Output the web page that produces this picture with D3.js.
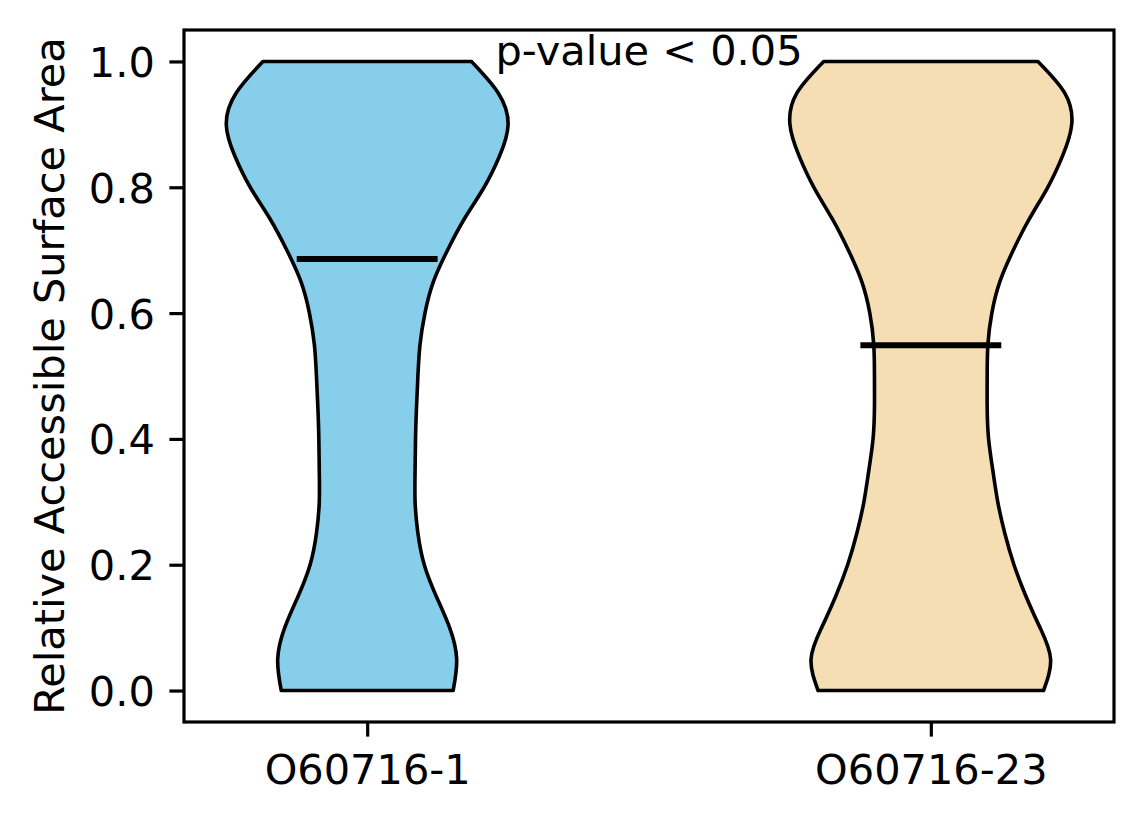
<!DOCTYPE html>
<html>
<head>
<meta charset="utf-8">
<script src="https://cdn.jsdelivr.net/npm/d3@7"></script>
<style>
    body { margin: 0; background: #fff; }
    svg { display: block; font-family: "DejaVu Sans", sans-serif; }
</style>
</head>
<body>
<div id="chart"></div>
<script>
// categories and their x positions
const categories = ["O60716-1", "O60716-23"];
const positions = [1, 2];
const fills = ["#87CEEB", "#F5DEB3"];

const rsaGrid = [0.00, 0.05, 0.10, 0.15, 0.20, 0.25, 0.30, 0.35, 0.40, 0.45, 0.50,
                 0.55, 0.60, 0.65, 0.70, 0.75, 0.80, 0.85, 0.90, 0.95, 1.00];
// kernel density (scaled so the peak is 1) for each isoform
const densityIso1 = [0.61, 0.635, 0.585, 0.49, 0.405, 0.36, 0.34, 0.34, 0.343, 0.35, 0.36,
                     0.375, 0.41, 0.47, 0.57, 0.69, 0.83, 0.94, 1.00, 0.93, 0.74];
const densityIso23 = [0.80, 0.85, 0.775, 0.675, 0.59, 0.525, 0.475, 0.44, 0.41, 0.40, 0.40,
                      0.405, 0.433, 0.49, 0.585, 0.70, 0.83, 0.935, 1.00, 0.95, 0.76];
const medians = [0.686, 0.549];

const yTicks = [0.0, 0.2, 0.4, 0.6, 0.8, 1.0];
const yLabel = "Relative Accessible Surface Area";
const annotation = "p-value < 0.05";

const width = 1144, height = 824;
const margin = {top: 30, right: 30, bottom: 102, left: 184};
const fontSize = 41.5;

let svg = d3.select("#chart").append("svg")
            .attr("width", width)
            .attr("height", height);
let g = svg.append("g").attr("transform", `translate(${margin.left}, ${margin.top})`);
let innerW = width - margin.left - margin.right;
let innerH = height - margin.top - margin.bottom;

// same limits matplotlib picks: violins are 0.5 wide, plus 5% margins
let xScale = d3.scaleLinear().domain([0.675, 2.325]).range([0, innerW]);
let yScale = d3.scaleLinear().domain([-0.05, 1.05]).range([innerH, 0]);
// half width of a violin, in x units
let halfWidth = d3.scaleLinear().domain([0, 1]).range([0, 0.25]);

let densities = [densityIso1, densityIso23];

densities.forEach((dens, i) => {
    let pts = rsaGrid.map((v, j) => ({v: v, d: dens[j]}));
    let area = d3.area()
                 .y(d => yScale(d.v))
                 .x0(d => xScale(positions[i] - halfWidth(d.d)))
                 .x1(d => xScale(positions[i] + halfWidth(d.d)))
                 .curve(d3.curveNatural);
    g.append("path")
     .datum(pts)
     .attr("d", area)
     .attr("fill", fills[i])
     .attr("stroke", "#000")
     .attr("stroke-width", 3.6)
     .attr("stroke-linejoin", "round");
});

// median lines
g.selectAll(".median").data(medians).join("line")
 .attr("class", "median")
 .attr("x1", (d, i) => xScale(positions[i] - 0.125))
 .attr("x2", (d, i) => xScale(positions[i] + 0.125))
 .attr("y1", d => yScale(d))
 .attr("y2", d => yScale(d))
 .attr("stroke", "#000")
 .attr("stroke-width", 6);

// axes
let yAxis = g.append("g")
             .call(d3.axisLeft(yScale).tickValues(yTicks).tickFormat(d3.format(".1f"))
                    .tickSize(14.6).tickPadding(14.6));
let xAxis = g.append("g").attr("transform", `translate(0, ${innerH})`)
             .call(d3.axisBottom(xScale).tickValues(positions).tickFormat((d, i) => categories[i])
                    .tickSize(14.6).tickPadding(14.6));
[yAxis, xAxis].forEach(ax => {
    ax.select(".domain").remove();
    ax.selectAll("line").attr("stroke", "#000").attr("stroke-width", 3.2);
    ax.selectAll("text").attr("fill", "#000")
      .style("font-size", fontSize + "px")
      .style("font-family", "'DejaVu Sans', sans-serif");
});
yAxis.selectAll("text").attr("dy", "0.36em");
xAxis.selectAll("text").attr("dy", "0.78em");

// frame
g.append("rect")
 .attr("width", innerW)
 .attr("height", innerH)
 .attr("fill", "none")
 .attr("stroke", "#000")
 .attr("stroke-width", 3.2);

// y label
g.append("text")
 .attr("transform", `translate(${64 - margin.left}, ${innerH / 2}) rotate(-90)`)
 .attr("text-anchor", "middle")
 .style("font-size", fontSize + "px")
 .text(yLabel);

// p-value note
g.append("text")
 .attr("x", xScale(1.5))
 .attr("y", yScale(1.0) + 4)
 .attr("text-anchor", "middle")
 .style("font-size", fontSize + "px")
 .text(annotation);
</script>
</body>
</html>
